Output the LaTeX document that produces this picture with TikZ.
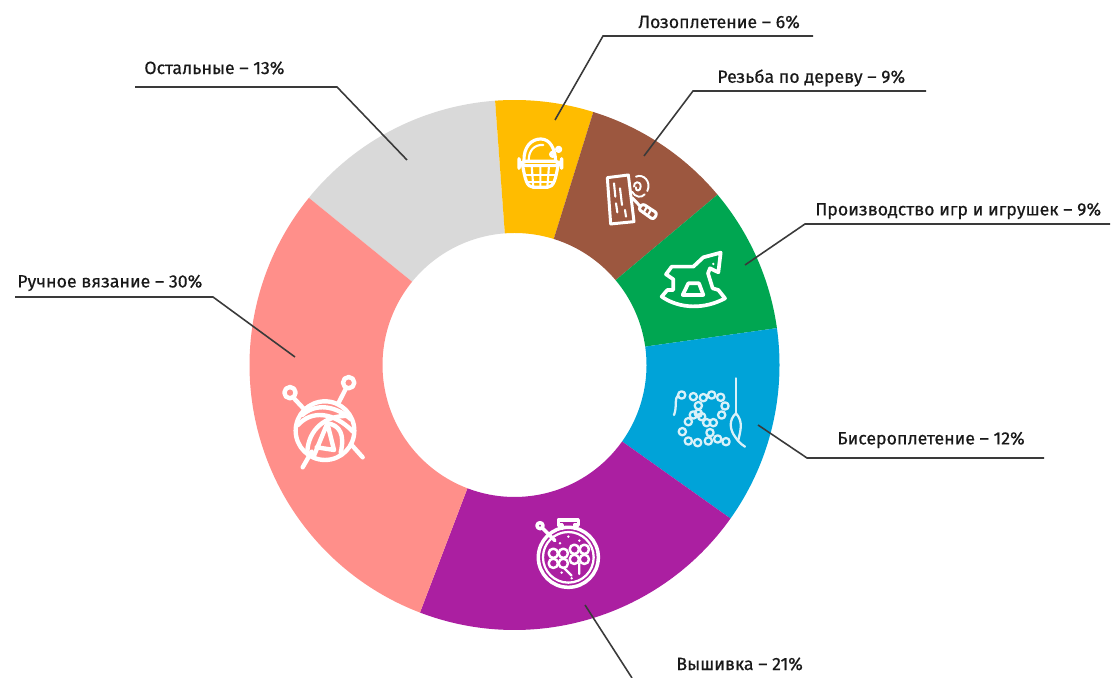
\documentclass[tikz,border=0pt]{standalone}
\usepackage{fontspec}
\setmainfont[FakeBold=0.55]{Fira Sans}
\usetikzlibrary{positioning}
\definecolor{slicegrey}{HTML}{D9D9D9}
\definecolor{sliceyellow}{HTML}{FFBC00}
\definecolor{slicebrown}{HTML}{9C573F}
\definecolor{slicegreen}{HTML}{00A651}
\definecolor{sliceblue}{HTML}{00A3D8}
\definecolor{slicepurple}{HTML}{AB1FA1}
\definecolor{slicepink}{HTML}{FF8F8A}
\definecolor{leadgrey}{HTML}{3A3A3A}
\tikzset{
  x=0.02cm,
  y=0.02cm,
  caption/.style={anchor=west, inner sep=0pt, font=\fontsize{10.1}{12}\selectfont, text=black!90},
  leader/.style={draw=leadgrey, line width=0.9pt},
  icon/.style={x=0.02cm/3, y=-0.02cm/3, draw=white, line width=2.5pt, line join=round, line cap=round},
}
\newcommand{\slicering}[3]{%
  \fill[#3] (#1:265) arc (#1:#2:265) -- (#2:132) arc (#2:#1:132) -- cycle;
}
\begin{document}
\begin{tikzpicture}
\useasboundingbox (0,0) rectangle (1112,678);

% ring
\begin{scope}[shift={(514.5,313)}]
  \slicering{94.2}{140.9}{slicegrey}
  \slicering{72.7}{94.2}{sliceyellow}
  \slicering{40}{72.7}{slicebrown}
  \slicering{8}{40}{slicegreen}
  \slicering{-35.4}{8}{sliceblue}
  \slicering{-110.9}{-35.4}{slicepurple}
  \slicering{140.9}{249.1}{slicepink}
\end{scope}

% labels
\node[caption] (rest)   at (144,610) {Остальные – 13\%};
\node[caption] (willow) at (638,656) {Лозоплетение – 6\%};
\node[caption] (wood)   at (717,600) {Резьба по дереву – 9\%};
\node[caption] (toys)   at (815,467) {Производство игр и игрушек – 9\%};
\node[caption] (knit)   at (17,395)  {Ручное вязание – 30\%};
\node[caption] (beads)  at (837,238) {Бисероплетение – 12\%};
\node[caption] (stitch) at (676,14)  {Вышивка – 21\%};

% leaders
\coordinate (restA) at (135,591);
\coordinate (restB) at (337,591);
\coordinate (restC) at (407,518);
\coordinate (willowA) at (813,642);
\coordinate (willowB) at (603,642);
\coordinate (willowC) at (555,558);
\coordinate (woodA) at (926,587);
\coordinate (woodB) at (693,587);
\coordinate (woodC) at (644,522);
\coordinate (toysA) at (1110,454);
\coordinate (toysB) at (805,454);
\coordinate (toysC) at (745,413);
\coordinate (knitA) at (15,381);
\coordinate (knitB) at (213,381);
\coordinate (knitC) at (295,321);
\coordinate (beadsA) at (1044,220);
\coordinate (beadsB) at (807,220);
\coordinate (beadsC) at (758,253);
\coordinate (stitchA) at (585,73);
\coordinate (stitchB) at (632,0);

\draw[leader] (restA) -- (restB) -- (restC);
\draw[leader] (willowA) -- (willowB) -- (willowC);
\draw[leader] (woodA) -- (woodB) -- (woodC);
\draw[leader] (toysA) -- (toysB) -- (toysC);
\draw[leader] (knitA) -- (knitB) -- (knitC);
\draw[leader] (beadsA) -- (beadsB) -- (beadsC);
\draw[leader] (stitchA) -- (stitchB);

% ball of yarn
\begin{scope}[shift={(270,318)}, icon]
  \draw (165,212) circle (88);
  \draw (100,145) -- (72,115) (205,130) -- (228,85) (125,275) -- (98,322) (245,255) -- (278,292);
  \draw (60,98) circle (17) (236,68) circle (17);
  \draw (97,165) .. controls (135,130) and (195,135) .. (243,178);
  \draw (84,195) .. controls (125,150) and (190,155) .. (249,215);
  \draw (112,275) .. controls (115,210) and (165,165) .. (235,168);
  \draw (132,287) -- (172,190) -- (192,270) (140,262) -- (192,270);
  \draw (172,190) .. controls (210,195) and (225,225) .. (212,278);
\end{scope}

% basket
\begin{scope}[shift={(510,553)}, icon, line width=1.8pt]
  \draw[rounded corners=4pt] (27,109) rectangle (155,122);
  \draw (38,122) .. controls (45,160) and (50,187) .. (70,187) -- (112,187) .. controls (132,187) and (137,160) .. (144,122);
  \draw[line width=1.2pt] (45,150) -- (137,150) (52,170) -- (130,170);
  \draw[line width=1.2pt] (65,122) -- (70,187) (91,122) -- (91,187) (117,122) -- (112,187);
  \draw (42,109) .. controls (40,65) and (65,42) .. (92,42) .. controls (120,42) and (135,70) .. (137,109);
  \draw[line width=1.2pt] (56,109) .. controls (55,75) and (75,58) .. (100,60);
  \draw (128,88) circle (6) (146,73) circle (6);
\end{scope}

% wood carving
\begin{scope}[shift={(510,553)}, icon, line width=1.7pt]
  \draw (292,158) -- (355,150) -- (372,290) -- (302,297) -- cycle;
  \draw[line width=1.2pt] (312,175) -- (316,215) (330,190) -- (336,240) (318,235) -- (322,262) (345,255) -- (348,275);
  \draw (366,218) -- (392,245);
  \draw[rounded corners=1.5pt] (385,252) -- (398,236) -- (442,265) -- (430,284) -- cycle;
  \draw[line width=1.2pt] (410,247) -- (400,264) (422,256) -- (412,273);
  \draw[line width=1.1pt] (372,185) .. controls (370,170) and (392,165) .. (392,185) .. controls (392,200) and (375,200) .. (378,187);
  \draw[line width=1.1pt] (378,155) .. controls (400,145) and (425,170) .. (412,198);
  \draw[line width=1.1pt] (366,200) .. controls (375,217) and (395,220) .. (404,208);
\end{scope}

% rocking horse
\begin{scope}[shift={(650,438)}, icon, line width=2.1pt]
  \draw (35,170) .. controls (90,208) and (165,208) .. (225,175) -- (205,150) -- (188,145) -- (174,100) -- (180,85) -- (205,97) -- (212,38)
        -- (160,52) -- (130,80) -- (65,80) -- (48,103) -- (70,118) -- (70,150) -- (52,150) -- cycle;
  \draw (115,130) -- (147,130) -- (160,165) -- (98,165) -- cycle;
  \fill[white] (190,72) circle (4);
\end{scope}

% beads
\begin{scope}[shift={(650,438)}, icon, draw=white!85!sliceblue, line width=1.3pt]
  \foreach \bx/\by in {95/465,130/470,160/473,185/465,212/472,225/498,215/525,190/548,170/548,
                       145/497,145/520,130/525,115/545,97/575,115/603,143/608,175/603,180/578,
                       155/530,203/597,228/605}
    \draw (\bx,\by) circle (11);
  \draw (85,465) .. controls (72,475) and (82,500) .. (72,525);
  \draw (258,415) -- (258,520);
  \draw (258,520) .. controls (235,540) and (240,570) .. (255,590) .. controls (265,605) and (272,612) .. (285,620);
  \draw (258,520) .. controls (280,545) and (272,570) .. (265,600);
\end{scope}

% hoop
\begin{scope}[shift={(520,168)}, icon, line width=2pt]
  \draw (145,142) circle (90);
  \draw[line width=1.3pt] (145,142) circle (76);
  \draw (127,55) -- (127,45) -- (115,45) -- (115,30) -- (175,30) -- (175,45) -- (163,45) -- (163,55);
  \draw (60,47) circle (9) (67,54) -- (105,92);
  \foreach \fx/\fy in {100/130,130/130,100/160,130/160,163/118,193/118,163/148,193/148}
    \draw[line width=1.4pt] (\fx,\fy) circle (14);
  \draw[line width=1.3pt] (130,172) -- (155,197) (178,160) -- (178,192);
  \foreach \dx/\dy in {145/80,120/100,178/92,125/188,155/205}
    \fill[white] (\dx,\dy) circle (4);
\end{scope}
\end{tikzpicture}
\end{document}
